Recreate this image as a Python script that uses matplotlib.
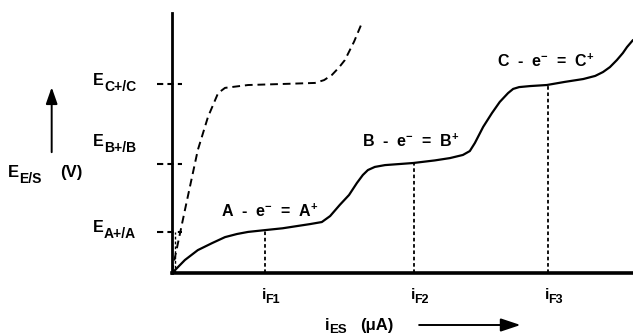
import numpy as np
import matplotlib.pyplot as plt

plt.rcParams['font.family'] = ['Liberation Sans', 'DejaVu Sans']
plt.rcParams['mathtext.fontset'] = 'custom'
plt.rcParams['mathtext.rm'] = 'Liberation Sans:bold'
plt.rcParams['mathtext.it'] = 'Liberation Sans:bold'
plt.rcParams['mathtext.bf'] = 'Liberation Sans:bold'

# staircase curve (solid) i_ES vs E_E/S, arbitrary units
curve_i = [0.0, 0.07, 0.28, 0.56, 0.87, 1.15, 1.41, 1.65, 2.02, 2.40, 2.73, 2.99, 3.25,
           3.43, 3.64, 3.84, 4.01, 4.14, 4.25, 4.40, 4.62, 5.23, 5.70, 6.03, 6.31, 6.46,
           6.57, 6.75, 6.94, 7.11, 7.29, 7.40, 7.53, 7.77, 8.13, 8.52, 8.92, 9.18, 9.35,
           9.50, 9.65, 9.78, 9.87, 10.0]
curve_E = [0.0, 0.12, 0.50, 0.88, 1.15, 1.38, 1.50, 1.58, 1.65, 1.72, 1.81, 1.88, 1.96,
           2.19, 2.62, 3.00, 3.46, 3.77, 3.96, 4.08, 4.15, 4.23, 4.33, 4.42, 4.54, 4.69,
           5.00, 5.62, 6.15, 6.58, 6.92, 7.08, 7.15, 7.19, 7.23, 7.35, 7.46, 7.58, 7.73,
           7.92, 8.19, 8.46, 8.69, 8.96]

# dashed curve (single step)
dash_i = [0.0, 0.02, 0.28, 0.56, 0.78, 1.00, 1.15, 1.65, 2.40, 3.10, 3.30, 3.47, 3.62, 3.75, 3.95, 4.12]
dash_E = [0.0, 0.23, 2.42, 4.73, 6.00, 6.92, 7.12, 7.23, 7.27, 7.31, 7.42, 7.62, 7.90, 8.19, 8.90, 9.62]

E_levels = [1.58, 4.19, 7.27]
E_subs = ['A+/A', 'B+/B', 'C+/C']
E_label_y = [1.58, 4.88, 7.23]

iF_pos = [2.02, 5.25, 8.16]
iF_top = [1.65, 4.23, 7.23]
iF_subs = ['F1', 'F2', 'F3']

reactions = [r'A  -  e$^{-}$  =  A$^{+}$', r'B  -  e$^{-}$  =  B$^{+}$', r'C  -  e$^{-}$  =  C$^{+}$']
reaction_xy = [(2.13, 2.15), (5.18, 4.85), (8.11, 7.92)]

fig = plt.figure(figsize=(6.33, 3.36), dpi=100)
ax = fig.add_axes([172 / 633, 63 / 336, 461 / 633, 260 / 336])
ax.set_xlim(0, 10)
ax.set_ylim(0, 10)


def sub_label(x, y, main, sub, size, subsize, ha='left', drop=2.2, dx=0.0):
    t = ax.text(x, y, main, fontsize=size, fontweight='bold', ha=ha, va='baseline', clip_on=False)
    ax.annotate(sub, xy=(1, 0), xycoords=t, xytext=(dx, -drop), textcoords='offset points',
                fontsize=subsize, fontweight='bold', ha='left', va='baseline', annotation_clip=False)
    return t


ax.plot(curve_i, curve_E, color='black', lw=1.6, solid_capstyle='round', solid_joinstyle='round')
ax.plot(dash_i, dash_E, color='black', lw=1.4, dashes=(4, 2.5))

# dotted drop lines at the plateaus
ax.vlines(iF_pos, 0, iF_top, colors='black', lw=1.3, linestyles=(0, (2, 1.5)))
ax.vlines(0.06, 0, E_levels[0], colors='black', lw=1.0, linestyles=(0, (2, 1.5)))

# dashed marks for the standard potentials
ax.hlines(E_levels, -0.32, 0.22, colors='black', lw=1.5, linestyles=(0, (3, 2)), clip_on=False)

for sub, y in zip(E_subs, E_label_y):
    sub_label(-1.71, y, 'E', sub, 11.5, 10)

for x, sub in zip(iF_pos, iF_subs):
    sub_label(x + 0.02, -1.0, 'i', sub, 11, 9, ha='right', drop=1.0, dx=-0.5)

for lab, (x, y) in zip(reactions, reaction_xy):
    ax.text(x, y, lab, fontsize=11.5, fontweight='bold', ha='center', va='baseline')

sub_label(-3.56, 3.69, 'E', 'E/S', 12, 10)
ax.text(-2.43, 3.69, '(V)', fontsize=12, fontweight='bold', ha='left', va='baseline', clip_on=False)
ax.annotate('', xy=(-2.61, 7.25), xytext=(-2.61, 4.54), annotation_clip=False,
            arrowprops=dict(arrowstyle='-|>,head_length=1.0,head_width=0.35', color='black', lw=1.4))

sub_label(3.32, -2.2, 'i', 'ES', 12, 9.5, drop=-0.5, dx=-0.3)
ax.text(4.08, -2.2, '(\u03bcA)', fontsize=12, fontweight='bold', ha='left', va='baseline', clip_on=False)
ax.annotate('', xy=(7.62, -2.0), xytext=(5.3, -2.0), annotation_clip=False,
            arrowprops=dict(arrowstyle='-|>,head_length=1.2,head_width=0.4', color='black', lw=1.4))

for s in ['top', 'right']:
    ax.spines[s].set_visible(False)
ax.spines['left'].set_linewidth(2.0)
ax.spines['bottom'].set_linewidth(2.6)
ax.set_xticks([])
ax.set_yticks([])

plt.savefig('out.png', dpi=100)
